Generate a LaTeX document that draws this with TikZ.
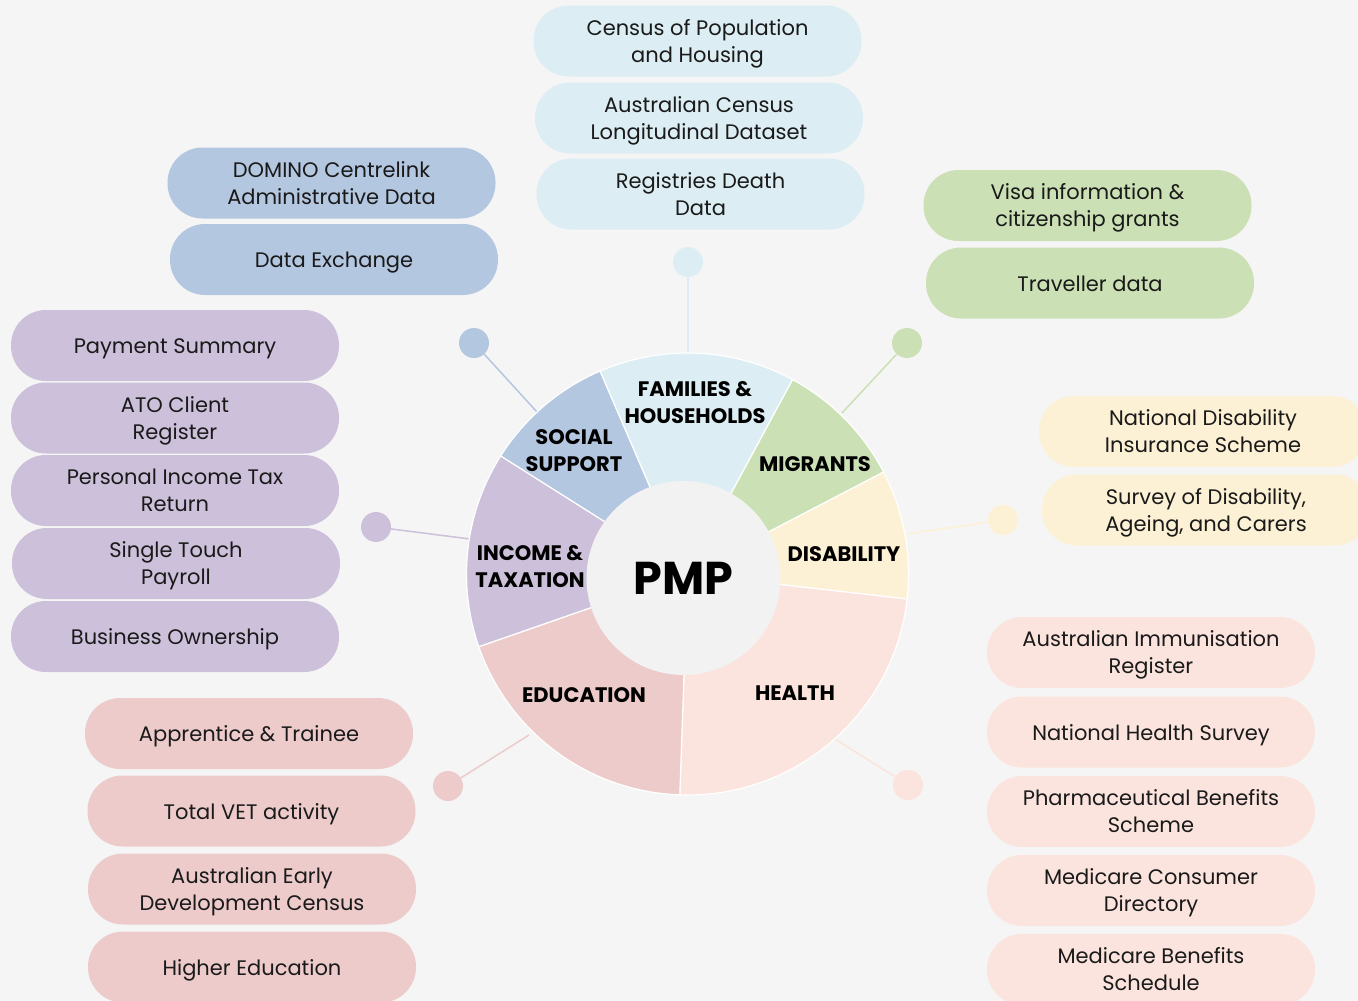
\documentclass[tikz,border=0pt]{standalone}
\usepackage{fontspec}
\setmainfont{Poppins}
\definecolor{bg}{HTML}{F5F5F5}
\definecolor{inner}{HTML}{F2F2F2}
\definecolor{txt}{HTML}{1A1A1A}
\definecolor{cFam}{HTML}{DCEEF4}
\definecolor{cMig}{HTML}{CBE1B5}
\definecolor{cDis}{HTML}{FDF1D5}
\definecolor{cHea}{HTML}{FBE4DD}
\definecolor{cEdu}{HTML}{EDCBCB}
\definecolor{cInc}{HTML}{CDC0DA}
\definecolor{cSoc}{HTML}{B4C7E0}
\newcommand\srcTwo[2]{\raisebox{-1pt}[\height][\depth]{\begin{tabular}[t]{@{}c@{}}#1\\#2\end{tabular}}}
\tikzset{
  src/.style={rectangle, rounded corners=35pt, minimum width=328pt, minimum height=71pt,
    inner sep=0pt, font=\fontsize{21}{27}\selectfont, text=txt,
    execute at begin node={\rule{0pt}{22pt}}, execute at end node={\rule[-5pt]{0pt}{5pt}}},
  cat/.style={align=center, inner sep=0pt, font=\fontsize{21}{27}\selectfont\bfseries, text=black},
  dotnode/.style={circle, minimum size=30pt, inner sep=0pt},
  link/.style={line width=1.5pt}
}
\begin{document}
\begin{tikzpicture}[x=1pt,y=-1pt]
\clip (0,0) rectangle (1358,1001);
\fill[bg] (0,0) rectangle (1358,1001);

% connector lines and dots
\node[dotnode, fill=cFam] (dFam) at (688,262) {};
\node[dotnode, fill=cSoc] (dSoc) at (474,343) {};
\node[dotnode, fill=cMig] (dMig) at (907,343) {};
\node[dotnode, fill=cInc] (dInc) at (376,527) {};
\node[dotnode, fill=cDis] (dDis) at (1003,520) {};
\node[dotnode, fill=cHea] (dHea) at (908,785) {};
\node[dotnode, fill=cEdu] (dEdu) at (448,786) {};
\coordinate (eFam) at (688,352);
\coordinate (eSoc) at (537,412);
\coordinate (eMig) at (842,413);
\coordinate (eInc) at (470,539);
\coordinate (eDis) at (907,534);
\coordinate (eHea) at (827,734);
\coordinate (eEdu) at (529,735);
\draw[link, cFam] (dFam) -- (eFam);
\draw[link, cSoc] (dSoc) -- (eSoc);
\draw[link, cMig] (dMig) -- (eMig);
\draw[link, cInc] (dInc) -- (eInc);
\draw[link, cDis] (dDis) -- (eDis);
\draw[link, cHea] (dHea) -- (eHea);
\draw[link, cEdu] (dEdu) -- (eEdu);

% donut
\coordinate (C) at (687.5,574);
\foreach \a/\b/\c in {-27.5/6.5/cDis, 6.5/92/cHea, 92/160.8/cEdu, 160.8/212.3/cInc,
                      212.3/246.7/cSoc, 246.7/298.4/cFam, 298.4/332.5/cMig}
  \filldraw[fill=\c, draw=white, line width=1.2pt, line join=round]
    (C) -- ++(\a:221) arc[start angle=\a, end angle=\b, radius=221] -- cycle;
\node[circle, fill=inner, minimum size=194pt, inner sep=0pt,
      font=\fontsize{46}{46}\selectfont\bfseries, text=black] (pmp) at (683.5,578) {PMP};

% category labels
\node[cat] (lFam) at (695,403) {FAMILIES \&\\HOUSEHOLDS};
\node[cat] (lSoc) at (574,451) {SOCIAL\\SUPPORT};
\node[cat] (lMig) at (815,464) {MIGRANTS};
\node[cat] (lDis) at (844,554) {DISABILITY};
\node[cat] (lInc) at (530,567) {INCOME \&\\TAXATION};
\node[cat] (lEdu) at (584,695) {EDUCATION};
\node[cat] (lHea) at (795,693) {HEALTH};

% families & households
\node[src, fill=cFam] (fam1) at (697.5,41) {\srcTwo{Census of Population}{and Housing}};
\node[src, fill=cFam] (fam2) at (699,118) {\srcTwo{Australian Census}{Longitudinal Dataset}};
\node[src, fill=cFam] (fam3) at (700.5,194) {\srcTwo{Registries Death}{Data}};
% social support
\node[src, fill=cSoc] (soc1) at (331.5,183) {\srcTwo{DOMINO Centrelink}{Administrative Data}};
\node[src, fill=cSoc] (soc2) at (334,259.5) {Data Exchange};
% income & taxation
\node[src, fill=cInc] (inc1) at (175,345.5) {Payment Summary};
\node[src, fill=cInc] (inc2) at (175,418) {\srcTwo{ATO Client}{Register}};
\node[src, fill=cInc] (inc3) at (175,490.5) {\srcTwo{Personal Income Tax}{Return}};
\node[src, fill=cInc] (inc4) at (176,563.5) {\srcTwo{Single Touch}{Payroll}};
\node[src, fill=cInc] (inc5) at (175,636.5) {Business Ownership};
% migrants
\node[src, fill=cMig] (mig1) at (1087.5,205.5) {\srcTwo{Visa information \&}{citizenship grants}};
\node[src, fill=cMig] (mig2) at (1090,283) {Traveller data};
% disability
\node[src, fill=cDis] (dis1) at (1203,431.5) {\srcTwo{National Disability}{Insurance Scheme}};
\node[src, fill=cDis] (dis2) at (1206,510) {\srcTwo{Survey of Disability,}{Ageing, and Carers}};
% health
\node[src, fill=cHea] (hea1) at (1151,652.5) {\srcTwo{Australian Immunisation}{Register}};
\node[src, fill=cHea] (hea2) at (1151,732) {National Health Survey};
\node[src, fill=cHea] (hea3) at (1151,811.5) {\srcTwo{Pharmaceutical Benefits}{Scheme}};
\node[src, fill=cHea] (hea4) at (1151,890.5) {\srcTwo{Medicare Consumer}{Directory}};
\node[src, fill=cHea] (hea5) at (1151,969.5) {\srcTwo{Medicare Benefits}{Schedule}};
% education
\node[src, fill=cEdu] (edu1) at (249,733.5) {Apprentice \& Trainee};
\node[src, fill=cEdu] (edu2) at (251.5,811) {Total VET activity};
\node[src, fill=cEdu] (edu3) at (252,889) {\srcTwo{Australian Early}{Development Census}};
\node[src, fill=cEdu] (edu4) at (252,967) {Higher Education};
\end{tikzpicture}
\end{document}
